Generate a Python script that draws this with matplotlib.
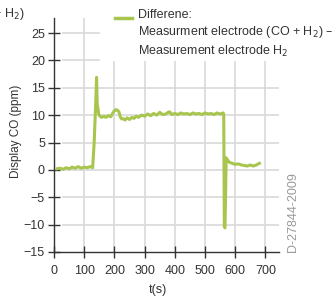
import matplotlib
matplotlib.use("Agg")
import matplotlib.pyplot as plt
from matplotlib.patches import Rectangle
from matplotlib.lines import Line2D

plt.rcParams['font.family'] = ['Liberation Sans', 'DejaVu Sans']

# data
t_s = [10, 20, 30, 40, 50, 60, 70, 80, 90, 100, 110, 120, 128, 133, 138, 141, 143, 145,
       148, 152, 158, 165, 172, 180, 188, 195, 200, 205, 210, 215, 220, 224, 228, 235,
       242, 250, 258, 265, 272, 280, 290, 300, 310, 320, 330, 340, 350, 360, 370, 380,
       385, 390, 400, 410, 420, 430, 440, 450, 460, 470, 480, 490, 500, 510, 520, 530,
       540, 550, 556, 560, 562, 564, 566, 568, 570, 575, 580, 590, 600, 610, 620, 630,
       640, 650, 660, 670, 680]
co_ppm = [0.2, 0.3, 0.1, 0.4, 0.2, 0.5, 0.3, 0.6, 0.3, 0.5, 0.4, 0.6, 0.4, 5.0, 12.0, 16.9, 12.0, 11.4,
          10.2, 9.8, 9.6, 9.8, 9.6, 9.9, 9.7, 10.4, 10.8, 11.0, 10.9, 10.6, 9.6, 9.3, 9.4, 9.1,
          9.5, 9.2, 9.6, 9.4, 9.8, 9.6, 10.0, 9.8, 10.2, 9.9, 10.3, 10.0, 10.5, 10.1, 10.2, 10.6,
          10.5, 10.1, 10.3, 10.1, 10.4, 10.2, 10.3, 10.1, 10.4, 10.2, 10.3, 10.1, 10.4, 10.2, 10.3, 10.1,
          10.4, 10.2, 10.3, 10.4, 10.2, -10.4, -10.6, -5.0, 2.2, 1.8, 1.4, 1.2, 1.0, 1.1, 0.9, 0.8,
          0.7, 0.9, 0.7, 0.9, 1.2]
x_ticks = [0, 100, 200, 300, 400, 500, 600, 700]
y_ticks = [-15, -10, -5, 0, 5, 10, 15, 20, 25]

W, H = 336, 296
fig = plt.figure(figsize=(W / 100, H / 100), dpi=100)
ax = fig.add_axes([54 / W, (H - 252) / H, 225 / W, 234 / H])
ax.set_xlim(0, 745)
ax.set_ylim(-15, 27.74)

grid_c = '#d9d9d9'
for y in y_ticks[1:]:
    ax.axhline(y, xmin=30 / 745, xmax=1, color=grid_c, lw=1.2, zorder=0.5)
for x in x_ticks[1:]:
    ax.axvline(x, color=grid_c, lw=1.2, zorder=0.5)

# white area behind the legend
ax.add_patch(Rectangle((100 / W, (H - 61) / H), 1, 1, transform=fig.transFigure,
                       facecolor='white', edgecolor='none', zorder=1, clip_on=False))

ax.plot(t_s, co_ppm, color='#a8c64e', lw=2.2, solid_joinstyle='round', zorder=3)

for s in ['top', 'right']:
    ax.spines[s].set_visible(False)
for s in ['left', 'bottom']:
    ax.spines[s].set_color('#333333')
    ax.spines[s].set_linewidth(1)

ax.set_xticks(x_ticks)
ax.set_yticks(y_ticks)
ax.tick_params(direction='inout', length=9, width=1, color='#333333',
               labelsize=9, labelcolor='#333333')
ax.tick_params(axis='y', pad=2)
ax.tick_params(axis='x', pad=5)

ax.set_xlabel('t(s)', fontsize=9, color='#333333')
ax.xaxis.set_label_coords((158 - 54) / 225, (252 - 284) / 234)
ax.set_ylabel('Display CO (ppm)', fontsize=8.5, color='#333333')
ax.yaxis.set_label_coords((22 - 54) / 225, (252 - 131.5) / 234)

# legend
fig.add_artist(Line2D([115 / W, 132 / W], [(H - 18) / H, (H - 18) / H],
                      color='#a8c64e', lw=2.5, transform=fig.transFigure))
fig.text(138 / W, (H - 9) / H,
         'Differene:\nMeasurment electrode (CO + H$_2$) –\nMeasurement electrode H$_2$',
         ha='left', va='top', fontsize=9, color='#333333', linespacing=1.3)

fig.text(25 / W, (H - 14) / H, '(CO + H$_2$)', ha='right', va='center',
         fontsize=9, color='#333333')

fig.text(293 / W, (H - 252) / H, 'D-27844-2009', rotation=90, ha='center', va='bottom',
         fontsize=9, color='#999999')

fig.savefig('out.png', dpi=100)
